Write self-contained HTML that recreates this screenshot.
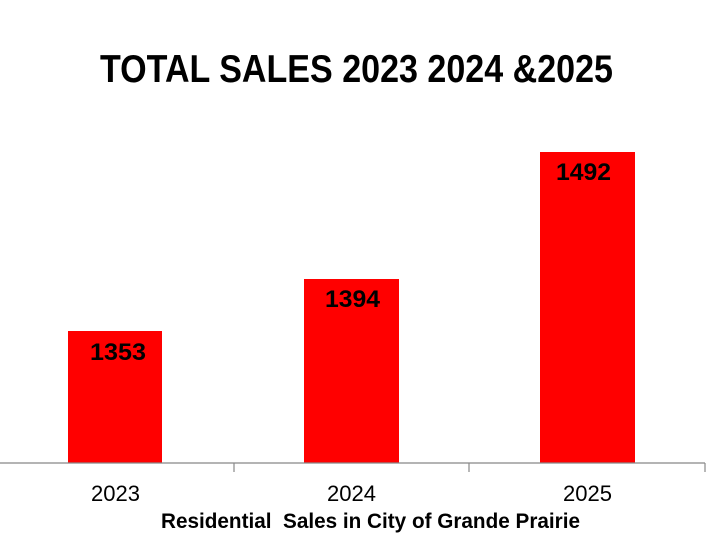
<!DOCTYPE html>
<html><head><meta charset="utf-8"><style>html,body{margin:0;padding:0;background:#fff}svg{display:block}</style></head>
<body>
<svg width="724" height="540" viewBox="0 0 724 540" xmlns="http://www.w3.org/2000/svg" font-family="'Liberation Sans', sans-serif">
<rect width="724" height="540" fill="#fff"/>
<text x="100" y="82" font-size="39" font-weight="bold" textLength="513" lengthAdjust="spacingAndGlyphs">TOTAL SALES 2023 2024 &amp;2025</text>
<rect x="68" y="331" width="94" height="132" fill="#ff0000"/>
<rect x="304" y="279" width="95" height="184" fill="#ff0000"/>
<rect x="540" y="152" width="95" height="311" fill="#ff0000"/>
<g font-size="24" font-weight="bold">
<text x="90" y="360" textLength="56" lengthAdjust="spacingAndGlyphs">1353</text>
<text x="325" y="307" textLength="55" lengthAdjust="spacingAndGlyphs">1394</text>
<text x="556" y="180" textLength="55" lengthAdjust="spacingAndGlyphs">1492</text>
</g>
<g stroke="#888" stroke-width="1.2">
<line x1="0" y1="463" x2="705" y2="463"/>
<line x1="234" y1="463" x2="234" y2="472"/>
<line x1="469" y1="463" x2="469" y2="472"/>
<line x1="705" y1="463" x2="705" y2="472"/>
</g>
<g font-size="22">
<text x="91" y="501" textLength="49" lengthAdjust="spacingAndGlyphs">2023</text>
<text x="327" y="501" textLength="49" lengthAdjust="spacingAndGlyphs">2024</text>
<text x="563" y="501" textLength="49" lengthAdjust="spacingAndGlyphs">2025</text>
</g>
<text x="161" y="528" font-size="21" font-weight="bold" textLength="419" lengthAdjust="spacingAndGlyphs">Residential &#160;Sales in City of Grande Prairie</text>
</svg>
</body></html>
